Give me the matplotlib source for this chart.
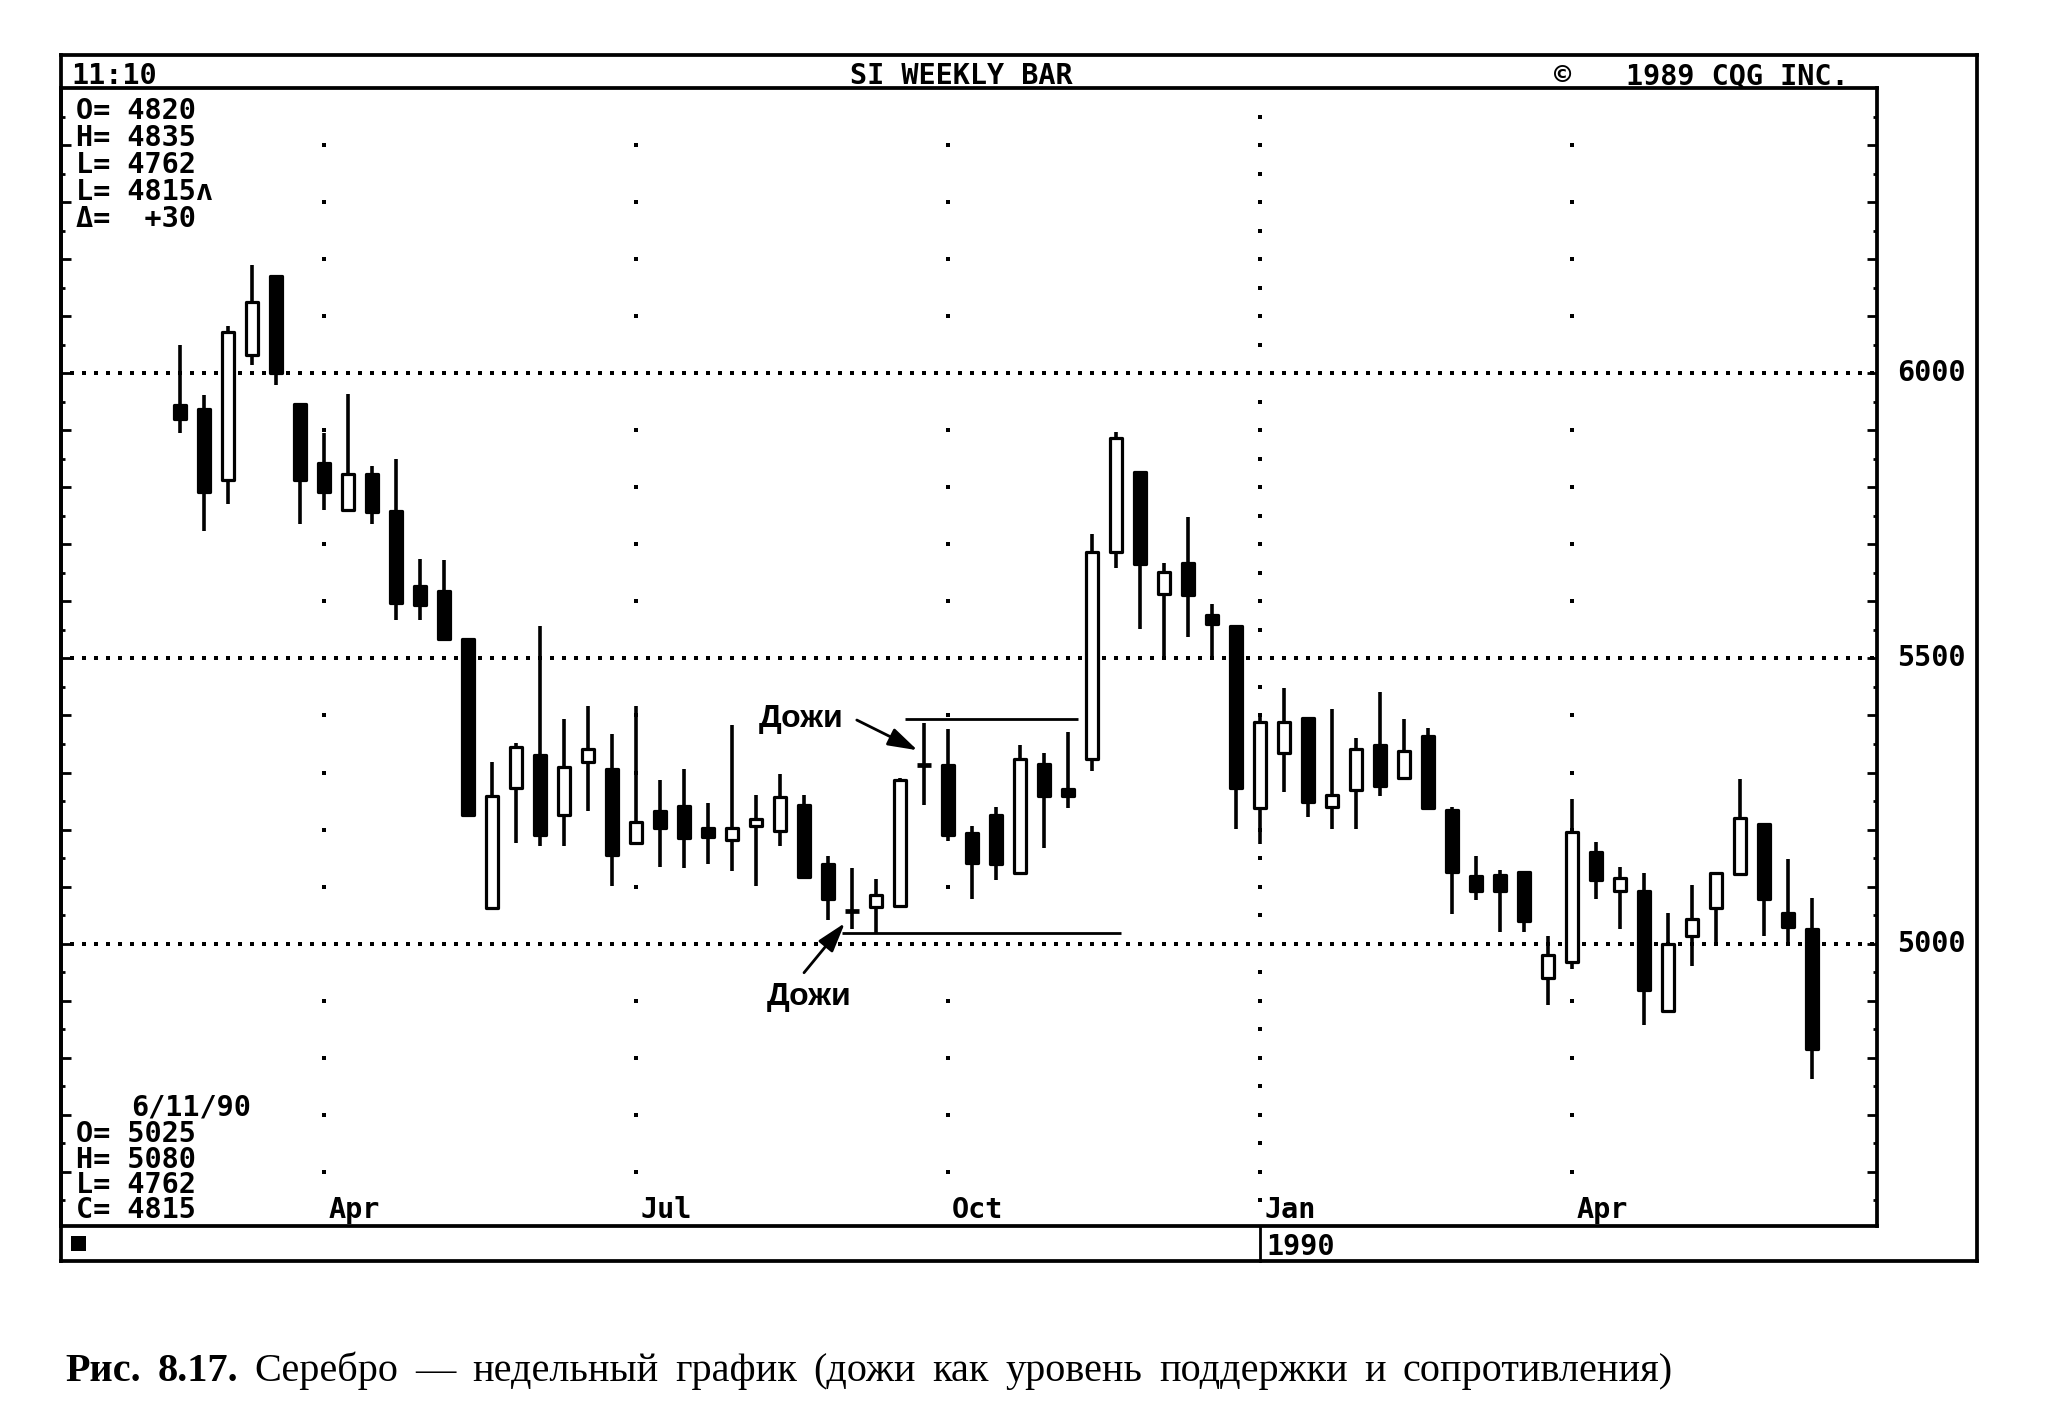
import datetime as dt
import numpy as np
import matplotlib
matplotlib.use("Agg")
import matplotlib.pyplot as plt
import matplotlib.transforms as mtransforms
from matplotlib.patches import Rectangle
from matplotlib.lines import Line2D

# ---------------- data (weekly silver, CQG screen) ----------------
last_week = dt.date(1990, 6, 11)
opens  = [5945, 5937, 5812, 6032, 6170, 5946, 5842, 5760, 5823, 5758, 5627, 5618,
          5534, 5063, 5272, 5331, 5226, 5318, 5306, 5176, 5233, 5241, 5203, 5182,
          5207, 5198, 5243, 5139, 5057, 5064, 5066, 5314, 5314, 5194, 5225, 5123,
          5315, 5271, 5324, 5687, 5826, 5613, 5668, 5577, 5556, 5237, 5335, 5395,
          5239, 5269, 5349, 5290, 5364, 5235, 5118, 5120, 5125, 4939, 4967, 5160,
          5093, 5093, 4882, 5014, 5063, 5122, 5209, 5054, 5025]
highs  = [6050, 5961, 6082, 6190, 6172, 5946, 5896, 5963, 5838, 5849, 5674, 5672,
          5536, 5318, 5351, 5556, 5394, 5416, 5367, 5416, 5287, 5306, 5247, 5383,
          5260, 5297, 5260, 5153, 5133, 5113, 5290, 5387, 5376, 5206, 5240, 5349,
          5334, 5371, 5719, 5897, 5828, 5668, 5748, 5595, 5556, 5403, 5448, 5397,
          5412, 5361, 5441, 5393, 5378, 5240, 5154, 5129, 5127, 5014, 5253, 5178,
          5135, 5124, 5054, 5103, 5126, 5289, 5210, 5149, 5080]
lows   = [5895, 5724, 5770, 6014, 5980, 5735, 5760, 5760, 5735, 5567, 5567, 5530,
          5222, 5062, 5176, 5171, 5171, 5233, 5101, 5176, 5135, 5132, 5139, 5128,
          5101, 5171, 5115, 5041, 5025, 5017, 5062, 5243, 5180, 5078, 5111, 5120,
          5168, 5237, 5303, 5658, 5552, 5500, 5537, 5500, 5201, 5174, 5266, 5222,
          5201, 5201, 5259, 5286, 5235, 5052, 5076, 5020, 5020, 4892, 4956, 5079,
          5025, 4858, 4880, 4961, 4997, 5120, 5014, 4997, 4762]
closes = [5920, 5792, 6073, 6125, 6000, 5812, 5792, 5823, 5757, 5597, 5594, 5534,
          5226, 5259, 5345, 5191, 5309, 5341, 5155, 5213, 5203, 5186, 5187, 5203,
          5218, 5257, 5117, 5078, 5057, 5086, 5287, 5314, 5191, 5142, 5140, 5324,
          5259, 5258, 5687, 5887, 5666, 5651, 5611, 5561, 5273, 5388, 5388, 5249,
          5261, 5341, 5276, 5337, 5237, 5125, 5093, 5093, 5039, 4980, 5196, 5112,
          5115, 4919, 5000, 5043, 5124, 5220, 5078, 5030, 4815]

month_marks = [(1989, 4, "Apr"), (1989, 7, "Jul"), (1989, 10, "Oct"),
               (1990, 1, "Jan"), (1990, 4, "Apr")]
price_lines = [5000, 5500, 6000]
price_labels = ["5000", "5500", "6000"]
top_info = ["O= 4820", "H= 4835", "L= 4762", "L= 4815\u028c", "\u0394=  +30"]
bottom_date = "6/11/90"
bottom_info = ["O= 5025", "H= 5080", "L= 4762", "C= 4815"]
resistance_level = 5394
support_level = 5018
caption_bold = ["Рис.", "8.17."]
caption_words = ["Серебро", "—", "недельный", "график", "(дожи", "как", "уровень",
                 "поддержки", "и", "сопротивления)"]

# ---------------- layout (pixels of a 2045 x 1418 canvas) ----------------
W, H = 2045, 1418
L, R_IN, R_OUT = 61, 1877, 1977
T_OUT, T_IN, B_IN, B_OUT = 55, 88, 1226, 1261

fig = plt.figure(figsize=(W / 100, H / 100), dpi=100)
fig.patch.set_facecolor("white")

MONO = dict(family=["DejaVu Sans Mono", "DejaVu Sans"], weight="bold", size=20.5,
            color="black")


def fx(x):
    return x / W


def fy(y):
    return 1 - y / H


def fline(x0, y0, x1, y1, lw=2.7):
    fig.add_artist(Line2D([fx(x0), fx(x1)], [fy(y0), fy(y1)], transform=fig.transFigure,
                          color="black", lw=lw, solid_capstyle="projecting"))


def ftext(x, y, s, **kw):
    opts = dict(MONO)
    opts.update(kw)
    return fig.text(fx(x), fy(y), s, **opts)


ax = fig.add_axes([fx(L), fy(B_IN), (R_IN - L) / W, (B_IN - T_IN) / H])
ax.set_xlim(-4.96, 70.71)
ax.set_ylim(4505, 6500)
ax.set_facecolor("white")
for sp in ax.spines.values():
    sp.set_linewidth(2.7)
ax.set_xticks([])
ax.set_yticks(np.arange(4600, 6500, 100))
ax.set_yticks(np.arange(4550, 6500, 100), minor=True)
ax.tick_params(axis="y", which="major", direction="in", length=7, width=2.0,
               left=True, right=True, labelleft=False, labelright=False)
ax.tick_params(axis="y", which="minor", direction="in", length=3.2, width=2.0,
               left=True, right=True, labelleft=False, labelright=False)

n = len(opens)
week_dates = [last_week - dt.timedelta(weeks=n - 1 - i) for i in range(n)]
idx = np.arange(n)

# dotted horizontal price lines
xs_dots = np.arange(-4.5, 70.6, 0.5)
for lvl in price_lines:
    ax.plot(xs_dots, np.full_like(xs_dots, lvl), ls="none", marker="s", ms=2.7,
            mew=0, color="black", zorder=1)

# dotted vertical month columns
for (yy, mm, lab) in month_marks:
    start = dt.date(yy, mm, 1)
    pos = next(i for i, d in enumerate(week_dates) if d >= start)
    step = 50 if mm == 1 else 100
    lo = 4550 if mm == 1 else 4600
    ys = np.arange(lo, 6451, step)
    ax.plot(np.full_like(ys, pos, dtype=float), ys, ls="none", marker="s", ms=2.7,
            mew=0, color="black", zorder=1)
    ax.annotate(lab, xy=(pos, 0), xycoords=("data", "axes fraction"),
                xytext=(3, 5.8), textcoords="offset points", ha="left", va="baseline",
                **MONO)

# candles
body_w = 0.5
ax.vlines(idx, lows, highs, color="black", lw=2.6, zorder=2)
for i in range(n):
    o, c = opens[i], closes[i]
    if o == c:
        ax.hlines(o, i - 0.3, i + 0.3, color="black", lw=3.4, zorder=3)
        continue
    lo, hi = min(o, c), max(o, c)
    face = "white" if c > o else "black"
    ax.add_patch(Rectangle((i - body_w / 2, lo), body_w, hi - lo, facecolor=face,
                           edgecolor="black", lw=2.3, joinstyle="round", zorder=3))

# support / resistance lines from the doji
ax.hlines(resistance_level, 30.2, 37.4, color="black", lw=2.0, zorder=4)
ax.hlines(support_level, 27.6, 39.2, color="black", lw=2.0, zorder=4)

ANN = dict(family="Liberation Sans", weight="bold", size=23, color="black")
ax.text(25.9, 5394, "Дожи", ha="center", va="center", **ANN)
ax.text(26.2, 4906, "Дожи", ha="center", va="center", **ANN)
arrow = dict(arrowstyle="-|>,head_length=0.9,head_width=0.28", color="black", lw=2.0,
             shrinkA=0, shrinkB=0, mutation_scale=20)
ax.annotate("", xy=(30.73, 5339), xytext=(28.2, 5392), arrowprops=arrow, zorder=5)
ax.annotate("", xy=(27.7, 5036), xytext=(26.0, 4949), arrowprops=arrow, zorder=5)

# right-hand price labels
blend = mtransforms.blended_transform_factory(ax.transAxes, ax.transData)
for lvl, lab in zip(price_lines, price_labels):
    ax.text((1931 - L) / (R_IN - L), lvl, lab, transform=blend, ha="center",
            va="center", clip_on=False, **MONO)

# ---------------- screen frame ----------------
fline(L, T_OUT, R_OUT, T_OUT)
fline(R_OUT, T_OUT, R_OUT, B_OUT)
fline(L, B_OUT, R_OUT, B_OUT)
fline(L, T_OUT, L, B_OUT)
fline(1260, B_IN, 1260, B_OUT, lw=2.0)
fig.add_artist(Rectangle((fx(71), fy(1251)), 15 / W, 15 / H, transform=fig.transFigure,
                         facecolor="black", edgecolor="none"))

# header texts
ftext(71, 84, "11:10", ha="left", va="baseline")
ftext(961, 84, "SI WEEKLY BAR", ha="center", va="baseline")
ftext(1554, 84, "\u00a9", ha="left", va="baseline")
ftext(1626, 84, "1989 CQG INC.", ha="left", va="baseline")

# info blocks
for k, s in enumerate(top_info):
    ftext(76, 119 + 27 * k, s, ha="left", va="baseline")
ftext(131, 1115, bottom_date, ha="left", va="baseline")
for k, s in enumerate(bottom_info):
    ftext(76, 1142 + 25.5 * k, s, ha="left", va="baseline")
ftext(1266, 1255, "1990", ha="left", va="baseline")

# ---------------- caption (word-spaced to the printed line length) ----------------
CAP = dict(family="Liberation Serif", size=29, color="black")
cap_x0, cap_x1, cap_base = 65, 1673, 1381
texts = []
for w in caption_bold:
    texts.append(fig.text(0, fy(cap_base), w, ha="left", va="baseline", weight="bold", **CAP))
for w in caption_words:
    texts.append(fig.text(0, fy(cap_base), w, ha="left", va="baseline", **CAP))
fig.canvas.draw()
r = fig.canvas.get_renderer()
widths = [t.get_window_extent(renderer=r).width for t in texts]
gap = (cap_x1 - cap_x0 - sum(widths)) / (len(texts) - 1)
x = cap_x0
for t, wdt in zip(texts, widths):
    t.set_x(fx(x))
    x += wdt + gap

fig.savefig("out.png", dpi=100, facecolor="white")
